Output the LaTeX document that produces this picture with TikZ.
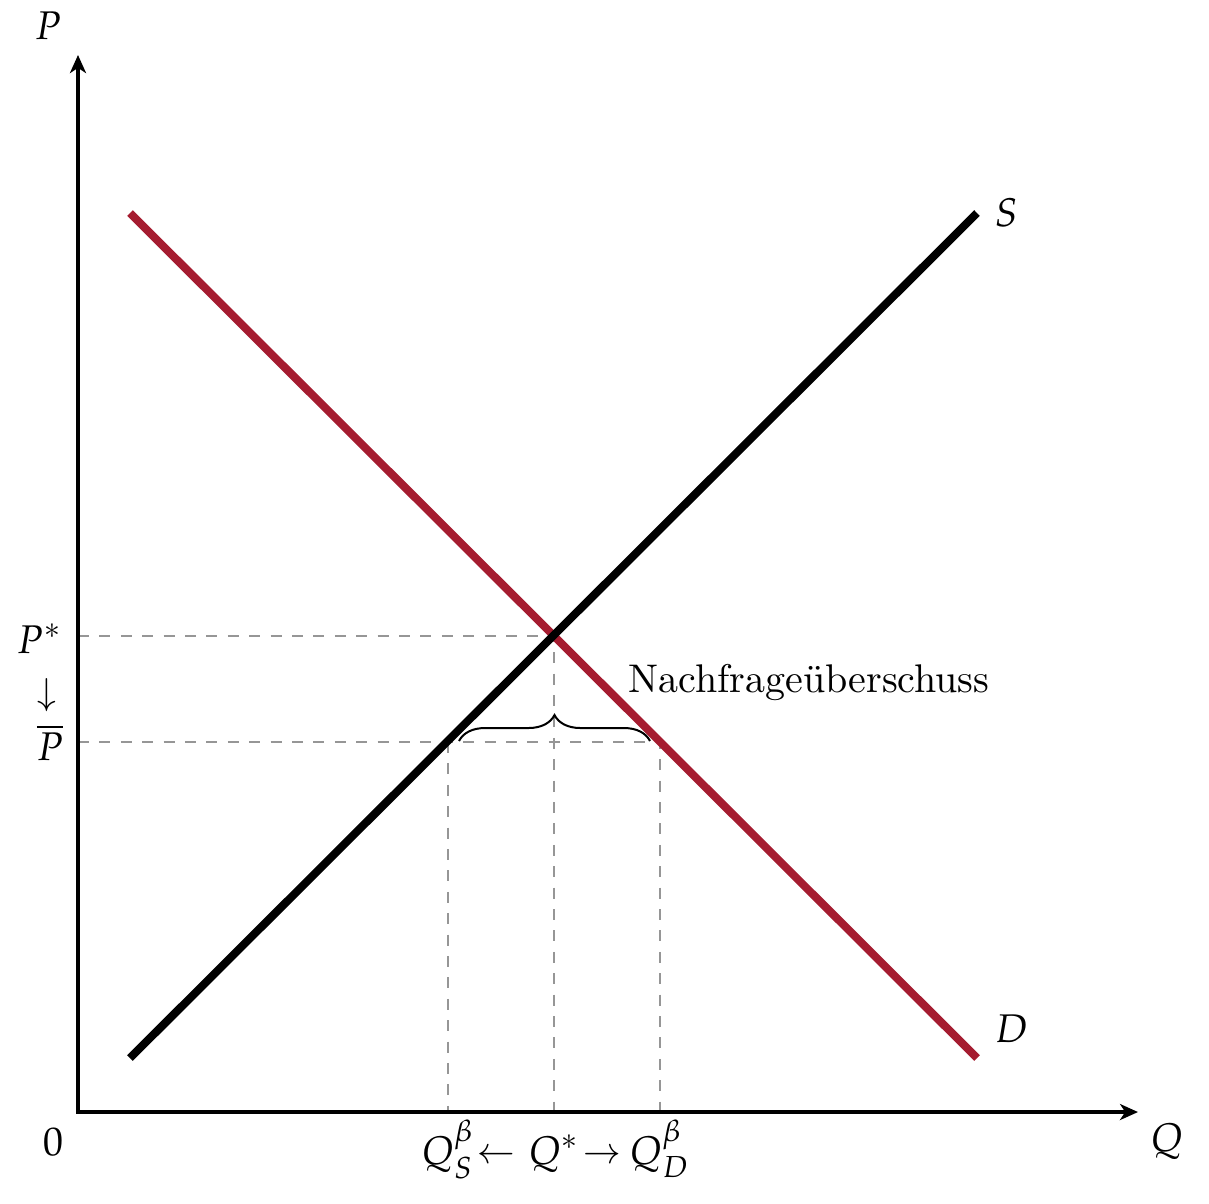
\documentclass[tikz,border=0pt]{standalone}
\usepackage{mathpazo}
\renewcommand{\rmdefault}{lmr}
\usetikzlibrary{arrows.meta,decorations.pathreplacing}
\definecolor{demandred}{RGB}{165,28,48}
\definecolor{guidegray}{RGB}{150,150,150}
\tikzset{
  axis/.style={line width=0.8pt, arrows={Stealth[length=4.5pt,width=4pt,inset=1.3pt]-Stealth[length=4.5pt,width=4pt,inset=1.3pt]}},
  supplyline/.style={line width=2pt, black},
  demandline/.style={line width=2pt, demandred},
  guide/.style={line width=0.5pt, guidegray, dash pattern=on 2.75pt off 2.6pt},
  bracestyle/.style={line width=0.5pt, decorate, decoration={brace, amplitude=6.5pt}},
  lbl/.style={inner sep=0pt, anchor=base},
  smallarrow/.style={inner sep=0pt, font=\small},
}
\begin{document}
\begin{tikzpicture}[x=0.25pt,y=-0.25pt]
\useasboundingbox (0,0) rectangle (1209,1203);
% coordinates
\coordinate (O) at (78,1112);
\coordinate (ytop) at (78,55);
\coordinate (xend) at (1138,1112);
\coordinate (s1) at (130,1058);
\coordinate (s2) at (977,213);
\coordinate (d1) at (130,213);
\coordinate (d2) at (977,1058);
\coordinate (E) at (553.5,635.5);
\coordinate (A) at (448,742);
\coordinate (B) at (660,742);
\coordinate (br1) at (459,741);
\coordinate (br2) at (650,741);
% guide lines
\draw[guide] (O |- E) -- (E) -- (E |- O);
\draw[guide] (O |- B) -- (B) -- (B |- O);
\draw[guide] (A) -- (A |- O);
% axes
\draw[axis] (ytop) |- (xend);
% curves
\draw[demandline] (d1) -- (d2);
\draw[supplyline] (s1) -- (s2);
% brace
\draw[bracestyle] (br1) -- (br2);
% labels
\node[lbl] (lP) at (48,39) {$P$};
\node[lbl] (lQ) at (1167,1151) {$Q$};
\node[lbl] (l0) at (53,1155) {$0$};
\node[lbl] (lS) at (1007,226) {$S$};
\node[lbl] (lD) at (1012,1042) {$D$};
\node[lbl] (lPstar) at (40,653) {$P^*$};
\node[smallarrow] (ldown) at (47,695) {$\downarrow$};
\node[lbl] (lPbar) at (50,760) {$\overline{P}$};
\node[lbl] (lQS) at (448,1164) {$Q_S^\beta$};
\node[smallarrow, anchor=base] (lleft) at (496,1163) {$\leftarrow$};
\node[lbl] (lQstar) at (554,1164) {$Q^*$};
\node[smallarrow, anchor=base] (lright) at (602.5,1163) {$\rightarrow$};
\node[lbl] (lQD) at (660,1164) {$Q_D^\beta$};
\node[lbl] (lexcess) at (809,692) {Nachfrageüberschuss};
\end{tikzpicture}
\end{document}
